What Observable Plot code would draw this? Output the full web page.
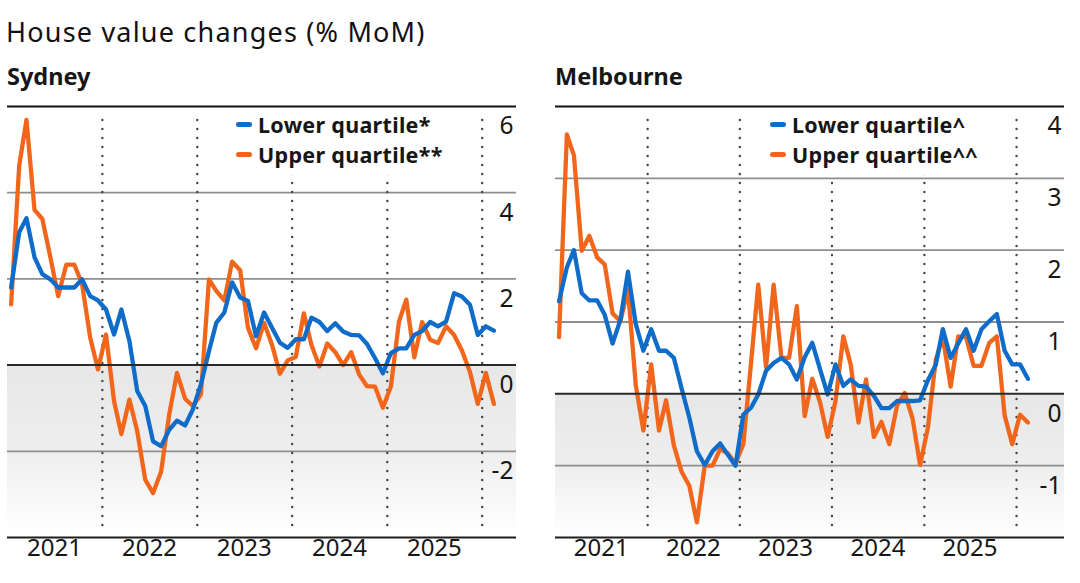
<!DOCTYPE html>
<html>
<head>
<meta charset="utf-8">
<script src="https://cdn.jsdelivr.net/npm/d3@7"></script>
<script src="https://cdn.jsdelivr.net/npm/@observablehq/plot@0.6"></script>
<style>
  html, body { margin: 0; padding: 0; background: #fff; }
  #page { position: relative; width: 1080px; height: 583px; overflow: hidden;
          font-family: "Noto Sans", "Open Sans", sans-serif; color: #161616; }
  .title { position: absolute; left: 6px; top: 18px; font-size: 27px; line-height: 28px;
           letter-spacing: 1.2px; font-weight: 400; color: #111; white-space: nowrap; }
  .city { position: absolute; top: 64px; font-size: 23.5px; line-height: 24px; font-weight: 700; white-space: nowrap; }
  .panel { position: absolute; top: 100px; }
  .legend { position: absolute; top: 108px; background: #fff; padding: 2px 8px 6px 6px;
            font-size: 21.5px; letter-spacing: 0.3px; font-weight: 700; white-space: nowrap; }
  .legend .row { display: flex; align-items: center; height: 29.5px; }
  .legend .sw { width: 16px; height: 5px; border-radius: 2.5px; margin-right: 6px; flex: none; }
  .legend .tx { display: inline-block; line-height: 29px; }
</style>
</head>
<body>
<div id="page">
  <div class="title">House value changes (% MoM)</div>
  <div class="city" style="left:7px">Sydney</div>
  <div class="city" style="left:555px">Melbourne</div>
  <div class="panel" id="syd" style="left:0px"></div>
  <div class="panel" id="mel" style="left:540px"></div>
  <div class="legend" id="legSyd" style="left:230px"></div>
  <div class="legend" id="legMel" style="left:764px"></div>
</div>
<script>
// Monthly house value change (% month on month), Jan 2021 – Feb 2026
const firstMonth = "2021-01";
const lastMonth = "2026-02";

const sydneyLower = [
  1.8, 3.08, 3.41, 2.5, 2.11, 1.99, 1.8, 1.8, 1.8, 1.99, 1.6, 1.5,
  1.29, 0.71, 1.29, 0.56, -0.6, -0.95, -1.77, -1.88, -1.5, -1.29, -1.4, -1.03,
  -0.45, 0.33, 0.98, 1.22, 1.92, 1.57, 1.49, 0.67, 1.22, 0.87, 0.52, 0.4,
  0.6, 0.6, 1.1, 1.0, 0.79, 0.97, 0.78, 0.7, 0.69, 0.49, 0.16, -0.19,
  0.28, 0.39, 0.39, 0.7, 0.79, 1.0, 0.9, 1.01, 1.67, 1.59, 1.4, 0.7,
  0.9, 0.8
];
const sydneyUpper = [
  1.41, 4.63, 5.69, 3.6, 3.39, 2.5, 1.6, 2.33, 2.33, 1.88, 0.64, -0.1,
  0.71, -0.84, -1.6, -0.8, -1.53, -2.66, -2.97, -2.47, -1.15, -0.18, -0.78, -0.95,
  -0.68, 1.99, 1.72, 1.5, 2.4, 2.2, 0.87, 0.39, 0.98, 0.48, -0.2, 0.11,
  0.19, 1.2, 0.47, -0.03, 0.5, 0.3, 0.0, 0.3, -0.22, -0.49, -0.5, -0.99,
  -0.49, 1.01, 1.52, 0.18, 1.0, 0.59, 0.51, 0.9, 0.7, 0.34, -0.16, -0.9,
  -0.18, -0.9
];
const melbourneLower = [
  1.29, 1.76, 2.0, 1.4, 1.3, 1.3, 1.1, 0.7, 1.03, 1.7, 0.97, 0.6,
  0.9, 0.6, 0.6, 0.5, 0.08, -0.33, -0.8, -0.99, -0.8, -0.69, -0.85, -1.0,
  -0.29, -0.19, -0.01, 0.32, 0.43, 0.5, 0.41, 0.2, 0.51, 0.71, 0.34, -0.01,
  0.41, 0.11, 0.2, 0.11, 0.1, -0.03, -0.2, -0.2, -0.1, -0.1, -0.1, -0.09,
  0.19, 0.4, 0.9, 0.5, 0.7, 0.9, 0.6, 0.9, 1.01, 1.11, 0.6, 0.41,
  0.41, 0.21
];
const melbourneUpper = [
  0.79, 3.61, 3.32, 1.99, 2.2, 1.9, 1.8, 1.12, 1.01, 1.45, 0.12, -0.51,
  0.41, -0.51, -0.09, -0.72, -1.08, -1.28, -1.79, -1.0, -1.0, -0.77, -0.83, -0.97,
  -0.7, 0.45, 1.52, 0.37, 1.52, 0.5, 0.5, 1.22, -0.31, 0.21, -0.12, -0.6,
  -0.1, 0.8, 0.41, -0.4, 0.2, -0.6, -0.39, -0.7, -0.16, 0.01, -0.34, -0.99,
  -0.47, 0.47, 0.79, 0.1, 0.8, 0.79, 0.39, 0.39, 0.71, 0.8, -0.3, -0.7,
  -0.29, -0.4
];

const yearLabels = ["2021", "2022", "2023", "2024", "2025"];
const yearBreaks = ["2022", "2023", "2024", "2025", "2026"];
const sydneyTicks = [6, 4, 2, 0, -2];
const melbourneTicks = [4, 3, 2, 1, 0, -1];

const seriesNames = { syd: ["Lower quartile*", "Upper quartile**"], mel: ["Lower quartile^", "Upper quartile^^"] };

const BLUE = "#0f6cc9";
const ORANGE = "#f2661b";

// one point per month, placed mid-month
const months = d3.utcMonth.range(d3.utcParse("%Y-%m")(firstMonth), d3.utcMonth.offset(d3.utcParse("%Y-%m")(lastMonth), 1));
const midMonths = months.map(m => d3.utcDay.offset(m, 14));
const janFirst = y => new Date(Date.UTC(+y, 0, 1));
const midYear = y => new Date(Date.UTC(+y, 6, 1));

function shadeDefs(id) {
  return () => {
    const ns = "http://www.w3.org/2000/svg";
    const defs = document.createElementNS(ns, "defs");
    const g = document.createElementNS(ns, "linearGradient");
    g.setAttribute("id", id);
    g.setAttribute("x1", "0"); g.setAttribute("y1", "0");
    g.setAttribute("x2", "0"); g.setAttribute("y2", "1");
    [["0", "#e7e7e7"], ["0.5", "#eeeeee"], ["1", "#ffffff"]].forEach(([o, c]) => {
      const s = document.createElementNS(ns, "stop");
      s.setAttribute("offset", o); s.setAttribute("stop-color", c);
      g.appendChild(s);
    });
    defs.appendChild(g);
    return defs;
  };
}

function panel({lower, upper, yDomain, ticks, xEnd, marginLeft, marginRight, gradId}) {
  const xDomain = [janFirst("2021"), xEnd];
  const [yMin, yMax] = yDomain;
  const grid = ticks.filter(t => t !== 0 && t !== yMax);
  return Plot.plot({
    width: 540,
    height: 483,
    marginTop: 6,
    marginBottom: 46,
    marginLeft,
    marginRight,
    x: { type: "utc", domain: xDomain, axis: null },
    y: { domain: yDomain, axis: null },
    style: { fontFamily: "'Noto Sans', sans-serif", fontSize: "24px", color: "#161616", background: "transparent", overflow: "visible" },
    marks: [
      shadeDefs(gradId),
      Plot.rect([0], { x1: () => xDomain[0], x2: () => xDomain[1], y1: () => 0, y2: () => yMin, fill: `url(#${gradId})` }),
      Plot.ruleY(grid, { stroke: "#8e8e8e", strokeWidth: 1.8 }),
      Plot.ruleX(yearBreaks, { x: janFirst, stroke: "#444", strokeWidth: 2.4, strokeDasharray: "0,9", strokeLinecap: "round", insetTop: 14, insetBottom: 9 }),
      Plot.lineY(upper, { x: (d, i) => midMonths[i], y: d => d, stroke: ORANGE, strokeWidth: 4.3, strokeLinejoin: "round", strokeLinecap: "round" }),
      Plot.lineY(lower, { x: (d, i) => midMonths[i], y: d => d, stroke: BLUE, strokeWidth: 4.3, strokeLinejoin: "round", strokeLinecap: "round" }),
      Plot.ruleY([0], { stroke: "#2a2a2a", strokeWidth: 2 }),
      Plot.ruleY([yMax], { stroke: "#111", strokeWidth: 2.2 }),
      Plot.ruleY([yMin], { stroke: "#1e1e1e", strokeWidth: 2 }),
      Plot.text(ticks, { y: d => d, text: d => String(d), frameAnchor: "right", textAnchor: "end", dx: -3, dy: 20, fontSize: 24.5, fill: "#161616" }),
      Plot.text(yearLabels, { x: midYear, text: d => d, frameAnchor: "bottom", dy: 18, fontSize: 24, fill: "#161616" })
    ]
  });
}

document.getElementById("syd").appendChild(panel({
  lower: sydneyLower, upper: sydneyUpper, yDomain: [-4, 6], ticks: sydneyTicks,
  xEnd: new Date(Date.UTC(2026, 4, 13)), marginLeft: 7, marginRight: 24, gradId: "shadeSyd"
}));
document.getElementById("mel").appendChild(panel({
  lower: melbourneLower, upper: melbourneUpper, yDomain: [-2, 4], ticks: melbourneTicks,
  xEnd: new Date(Date.UTC(2026, 6, 10)), marginLeft: 15, marginRight: 16, gradId: "shadeMel"
}));

function legend(el, names) {
  [[names[0], BLUE], [names[1], ORANGE]].forEach(([label, color]) => {
    const row = document.createElement("div");
    row.className = "row";
    const sw = document.createElement("span");
    sw.className = "sw";
    sw.style.background = color;
    const tx = document.createElement("span");
    tx.className = "tx";
    tx.textContent = label;
    row.appendChild(sw); row.appendChild(tx);
    el.appendChild(row);
  });
}
legend(document.getElementById("legSyd"), seriesNames.syd);
legend(document.getElementById("legMel"), seriesNames.mel);
</script>
</body>
</html>
